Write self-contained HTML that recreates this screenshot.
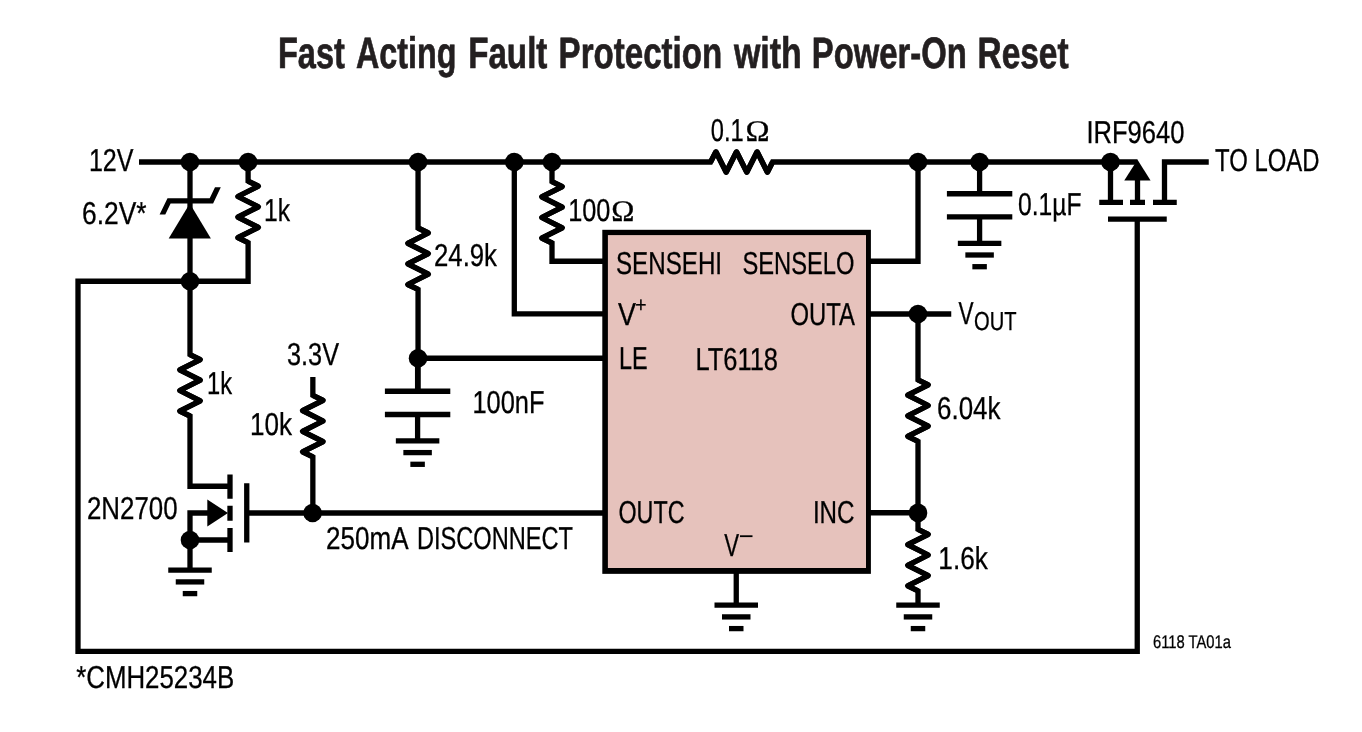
<!DOCTYPE html>
<html lang="en">
<head>
<meta charset="utf-8">
<title>Fast Acting Fault Protection with Power-On Reset</title>
<style>
html,body{margin:0;padding:0;background:#fff;}
body{width:1362px;height:732px;overflow:hidden;}
svg{display:block;will-change:transform;}
svg text{font-family:"Liberation Sans",sans-serif;fill:#000;stroke:#000;stroke-width:0.3px;text-rendering:geometricPrecision;}
.w path{fill:none;stroke:#000;stroke-width:5.3;stroke-linejoin:miter;stroke-miterlimit:1.6;stroke-linecap:butt;}
.w circle{fill:#000;}
</style>
</head>
<body>
<svg width="1362" height="732" viewBox="0 0 1362 732">
<rect x="0" y="0" width="1362" height="732" fill="#fff"/>

<rect x="602.3" y="229.8" width="268.6" height="344.05" fill="#000"/>
<rect x="607.9" y="235.1" width="258.1" height="332.9" fill="#e6c2bc"/>
<g class="w">
<path d="M139.00,162.00 L710.60,162.00 L715.90,151.70 L726.20,172.30 L736.50,151.70 L746.80,172.30 L757.10,151.70 L767.40,172.30 L772.60,162.00 L1137.50,162.00" />
<path d="M190.00,162.00 L190.00,354.60 L200.30,359.60 L179.70,369.90 L200.30,380.20 L179.70,390.50 L200.30,400.80 L179.70,411.10 L190.00,416.00 L190.00,486.25 L232.00,486.25" />
<path d="M248.10,162.00 L248.10,181.20 L258.40,186.20 L237.80,196.50 L258.40,206.80 L237.80,217.10 L258.40,227.40 L237.80,237.70 L248.10,242.60 L248.10,281.25 L78.00,281.25 L78.00,651.35 L1137.25,651.35 L1137.25,218.75" />
<path d="M418.05,162.00 L418.05,228.00 L428.35,233.00 L407.75,243.30 L428.35,253.60 L407.75,263.90 L428.35,274.20 L407.75,284.50 L418.05,289.40 L418.05,391.25" />
<path d="M418.00,358.25 L604.00,358.25" />
<path d="M514.30,162.00 L514.30,313.90 L604.00,313.90" />
<path d="M552.00,162.00 L552.00,181.60 L562.30,186.60 L541.70,196.90 L562.30,207.20 L541.70,217.50 L562.30,227.80 L541.70,238.10 L552.00,243.00 L552.00,261.25 L604.00,261.25" />
<path d="M870.00,261.25 L918.00,261.25 L918.00,162.00" />
<path d="M870.00,314.00 L951.25,314.00" />
<path d="M918.00,314.00 L918.00,379.90 L928.30,384.90 L907.70,395.20 L928.30,405.50 L907.70,415.80 L928.30,426.10 L907.70,436.40 L918.00,441.30 L918.00,529.40 L928.30,534.40 L907.70,544.70 L928.30,555.00 L907.70,565.30 L928.30,575.60 L907.70,585.90 L918.00,590.80 L918.00,605.00" />
<path d="M870.00,512.75 L918.00,512.75" />
<path d="M736.25,572.00 L736.25,605.00" />
<path d="M246.75,513.00 L604.00,513.00" />
<path d="M312.85,377.00 L312.85,395.40 L323.15,400.40 L302.55,410.70 L323.15,421.00 L302.55,431.30 L323.15,441.60 L302.55,451.90 L312.85,456.80 L312.85,513.00" />
<path d="M417.60,358.25 L417.60,391.25" />
<path d="M384.90,391.25 H450.30 M384.90,414.5 H450.30" stroke-width="5"/>
<path d="M417.60,414.50 L417.60,440.90" />
<path d="M395.85,440.90 H439.35" stroke-width="5.1"/>
<path d="M403.35,452.60 H431.85" stroke-width="5.1"/>
<path d="M410.35,464.30 H424.85" stroke-width="5.1"/>
<path d="M979.60,162.00 L979.60,193.75" />
<path d="M946.90,193.75 H1012.30 M946.90,216.9 H1012.30" stroke-width="5"/>
<path d="M979.60,216.90 L979.60,243.30" />
<path d="M957.85,243.30 H1001.35" stroke-width="5.1"/>
<path d="M965.35,255.00 H993.85" stroke-width="5.1"/>
<path d="M972.35,266.70 H986.85" stroke-width="5.1"/>
<path d="M230,474.5 V498.75 M230,505.75 V520.75 M230,528 V552 M246.75,483.25 V542.5" stroke-width="5"/>
<path d="M232.00,540.00 L190.00,540.00" />
<path d="M210.00,513.00 L190.00,513.00 L190.00,570.00" />
<path d="M228,513 L207.3,499.6 V526.6 Z" style="fill:#000;stroke:none"/>
<path d="M1099.25,202.3 H1123 M1130,202.3 H1145 M1153,202.3 H1176.75 M1108,219.1 H1166.75" stroke-width="5"/>
<path d="M1110.50,162.00 L1110.50,204.00" />
<path d="M1137.50,204.00 L1137.50,178.00" />
<path d="M1137.5,159.8 L1124.25,180.6 H1150.6 Z" style="fill:#000;stroke:none"/>
<path d="M1164.50,204.00 L1164.50,162.00 L1208.75,162.00" />
<path d="M189.8,203.6 L168.7,238.5 H210.9 Z" style="fill:#000;stroke:none"/>
<path d="M159.6,214.5 L167.5,198.2 H209.7 L215,187.3 H220.8 L213.1,203.6 H170.6 L165.3,214.5 Z" style="fill:#000;stroke:none"/>
<path d="M710.60,162.00 L715.90,151.70 L726.20,172.30 L736.50,151.70 L746.80,172.30 L757.10,151.70 L767.40,172.30 L772.60,162.00" style="stroke-linejoin:round"/>
<path d="M190.00,354.60 L200.30,359.60 L179.70,369.90 L200.30,380.20 L179.70,390.50 L200.30,400.80 L179.70,411.10 L190.00,416.00" style="stroke-linejoin:round"/>
<path d="M248.10,181.20 L258.40,186.20 L237.80,196.50 L258.40,206.80 L237.80,217.10 L258.40,227.40 L237.80,237.70 L248.10,242.60" style="stroke-linejoin:round"/>
<path d="M418.05,228.00 L428.35,233.00 L407.75,243.30 L428.35,253.60 L407.75,263.90 L428.35,274.20 L407.75,284.50 L418.05,289.40" style="stroke-linejoin:round"/>
<path d="M552.00,181.60 L562.30,186.60 L541.70,196.90 L562.30,207.20 L541.70,217.50 L562.30,227.80 L541.70,238.10 L552.00,243.00" style="stroke-linejoin:round"/>
<path d="M918.00,379.90 L928.30,384.90 L907.70,395.20 L928.30,405.50 L907.70,415.80 L928.30,426.10 L907.70,436.40 L918.00,441.30" style="stroke-linejoin:round"/>
<path d="M918.00,529.40 L928.30,534.40 L907.70,544.70 L928.30,555.00 L907.70,565.30 L928.30,575.60 L907.70,585.90 L918.00,590.80" style="stroke-linejoin:round"/>
<path d="M312.85,395.40 L323.15,400.40 L302.55,410.70 L323.15,421.00 L302.55,431.30 L323.15,441.60 L302.55,451.90 L312.85,456.80" style="stroke-linejoin:round"/>
<path d="M714.50,605.20 H758.00" stroke-width="5.1"/>
<path d="M722.00,616.90 H750.50" stroke-width="5.1"/>
<path d="M729.00,628.60 H743.50" stroke-width="5.1"/>
<path d="M896.25,605.20 H939.75" stroke-width="5.1"/>
<path d="M903.75,616.90 H932.25" stroke-width="5.1"/>
<path d="M910.75,628.60 H925.25" stroke-width="5.1"/>
<path d="M168.25,570.20 H211.75" stroke-width="5.1"/>
<path d="M175.75,581.90 H204.25" stroke-width="5.1"/>
<path d="M182.75,593.60 H197.25" stroke-width="5.1"/>
<circle cx="190" cy="162.0" r="9.3"/>
<circle cx="248.1" cy="162.0" r="9.3"/>
<circle cx="418.05" cy="162.0" r="9.3"/>
<circle cx="514.3" cy="162.0" r="9.3"/>
<circle cx="552" cy="162.0" r="9.3"/>
<circle cx="918" cy="162.0" r="9.3"/>
<circle cx="979.6" cy="162.0" r="9.3"/>
<circle cx="1110.5" cy="162.0" r="9.3"/>
<circle cx="190" cy="281.25" r="9.3"/>
<circle cx="418.05" cy="358.25" r="9.3"/>
<circle cx="918" cy="314" r="9.3"/>
<circle cx="918" cy="512.9" r="9.3"/>
<circle cx="312.6" cy="513" r="9.3"/>
<circle cx="190" cy="540" r="9.3"/>
</g>
<g>
<text id="L_t1" x="277.94" y="67.75" font-size="44" font-weight="bold" style="fill:#231f20;stroke:#231f20;stroke-width:0.7px;stroke-linejoin:miter" textLength="66.86" lengthAdjust="spacingAndGlyphs">Fast</text>
<text id="L_t2" x="355.98" y="67.75" font-size="44" font-weight="bold" style="fill:#231f20;stroke:#231f20;stroke-width:0.7px;stroke-linejoin:miter" textLength="100.46" lengthAdjust="spacingAndGlyphs">Acting</text>
<text id="L_t3" x="468.17" y="67.75" font-size="44" font-weight="bold" style="fill:#231f20;stroke:#231f20;stroke-width:0.7px;stroke-linejoin:miter" textLength="79.25" lengthAdjust="spacingAndGlyphs">Fault</text>
<text id="L_t4" x="558.57" y="67.75" font-size="44" font-weight="bold" style="fill:#231f20;stroke:#231f20;stroke-width:0.7px;stroke-linejoin:miter" textLength="163.68" lengthAdjust="spacingAndGlyphs">Protection</text>
<text id="L_t5" x="733.99" y="67.75" font-size="44" font-weight="bold" style="fill:#231f20;stroke:#231f20;stroke-width:0.7px;stroke-linejoin:miter" textLength="67.84" lengthAdjust="spacingAndGlyphs">with</text>
<text id="L_t6" x="811.77" y="67.75" font-size="44" font-weight="bold" style="fill:#231f20;stroke:#231f20;stroke-width:0.7px;stroke-linejoin:miter" textLength="155.06" lengthAdjust="spacingAndGlyphs">Power-On</text>
<text id="L_t7" x="977.57" y="67.75" font-size="44" font-weight="bold" style="fill:#231f20;stroke:#231f20;stroke-width:0.7px;stroke-linejoin:miter" textLength="91.03" lengthAdjust="spacingAndGlyphs">Reset</text>
<text id="L_12v" x="88.94" y="170.75" font-size="31.6" textLength="44.57" lengthAdjust="spacingAndGlyphs">12V</text>
<text id="L_62v" x="81.99" y="223.75" font-size="31.6" textLength="64.53" lengthAdjust="spacingAndGlyphs">6.2V*</text>
<text id="L_1ka" x="263.98" y="220.75" font-size="31.6" textLength="26.03" lengthAdjust="spacingAndGlyphs">1k</text>
<text id="L_249k" x="433.98" y="266.25" font-size="31.6" textLength="63.03" lengthAdjust="spacingAndGlyphs">24.9k</text>
<text id="L_100o" x="568.23" y="221.0" font-size="31.6" textLength="42.22" lengthAdjust="spacingAndGlyphs">100</text>
<text id="L_om1" x="611.28" y="221.0" font-size="30" style="font-family:'Liberation Serif',serif" textLength="23.21" lengthAdjust="spacingAndGlyphs">Ω</text>
<text id="L_01o" x="710.76" y="140.8" font-size="31.6" textLength="32.88" lengthAdjust="spacingAndGlyphs">0.1</text>
<text id="L_om2" x="745.62" y="140.8" font-size="30" style="font-family:'Liberation Serif',serif" textLength="24.12" lengthAdjust="spacingAndGlyphs">Ω</text>
<text id="L_irf" x="1086.42" y="143" font-size="31.6" textLength="98.11" lengthAdjust="spacingAndGlyphs">IRF9640</text>
<text id="L_load" x="1214.99" y="170.75" font-size="31.6" textLength="104.53" lengthAdjust="spacingAndGlyphs">TO LOAD</text>
<text id="L_01uf" x="1017.97" y="215" font-size="31.6" textLength="63.56" lengthAdjust="spacingAndGlyphs">0.1µF</text>
<text id="L_shi" x="615.97" y="273.75" font-size="31.6" textLength="106.09" lengthAdjust="spacingAndGlyphs">SENSEHI</text>
<text id="L_slo" x="742.47" y="273.75" font-size="31.6" textLength="112.05" lengthAdjust="spacingAndGlyphs">SENSELO</text>
<text id="L_vp" x="618.00" y="325" font-size="31.6" textLength="18.00" lengthAdjust="spacingAndGlyphs">V</text>
<text id="L_outa" x="790.49" y="325" font-size="31.6" textLength="64.51" lengthAdjust="spacingAndGlyphs">OUTA</text>
<text id="L_le" x="618.93" y="369.25" font-size="31.6" textLength="28.64" lengthAdjust="spacingAndGlyphs">LE</text>
<text id="L_lt" x="695.46" y="370" font-size="31.6" textLength="82.56" lengthAdjust="spacingAndGlyphs">LT6118</text>
<text id="L_outc" x="618.48" y="523" font-size="31.6" textLength="66.03" lengthAdjust="spacingAndGlyphs">OUTC</text>
<text id="L_inc" x="812.88" y="523" font-size="31.6" textLength="41.65" lengthAdjust="spacingAndGlyphs">INC</text>
<text id="L_vm" x="724.36" y="555.5" font-size="31.6" textLength="14.85" lengthAdjust="spacingAndGlyphs">V</text>
<text id="L_vo" x="958.47" y="324.25" font-size="31.6" textLength="15.07" lengthAdjust="spacingAndGlyphs">V</text>
<text id="L_out" x="973.98" y="330" font-size="26" textLength="42.52" lengthAdjust="spacingAndGlyphs">OUT</text>
<text id="L_604k" x="936.99" y="418.75" font-size="31.6" textLength="63.52" lengthAdjust="spacingAndGlyphs">6.04k</text>
<text id="L_16k" x="938.36" y="568.7" font-size="31.6" textLength="49.44" lengthAdjust="spacingAndGlyphs">1.6k</text>
<text id="L_100nf" x="472.43" y="412.5" font-size="31.6" textLength="72.10" lengthAdjust="spacingAndGlyphs">100nF</text>
<text id="L_33v" x="286.99" y="365" font-size="31.6" textLength="52.01" lengthAdjust="spacingAndGlyphs">3.3V</text>
<text id="L_10k" x="249.95" y="435" font-size="31.6" textLength="42.04" lengthAdjust="spacingAndGlyphs">10k</text>
<text id="L_1kb" x="206.98" y="393.75" font-size="31.6" textLength="25.03" lengthAdjust="spacingAndGlyphs">1k</text>
<text id="L_2n" x="86.98" y="518.75" font-size="31.6" textLength="90.53" lengthAdjust="spacingAndGlyphs">2N2700</text>
<text id="L_250" x="326.00" y="548.75" font-size="31.6" textLength="82.51" lengthAdjust="spacingAndGlyphs">250mA</text>
<text id="L_disc" x="416.99" y="548.75" font-size="31.6" textLength="156.01" lengthAdjust="spacingAndGlyphs">DISCONNECT</text>
<text id="L_cmh" x="76.19" y="687.7" font-size="31.6" textLength="158.02" lengthAdjust="spacingAndGlyphs">*CMH25234B</text>
<text id="L_ta" x="1152.99" y="648" font-size="18.3" textLength="78.01" lengthAdjust="spacingAndGlyphs">6118 TA01a</text>
<text id="L_plus" x="635.33" y="311.5" font-size="21.5" textLength="11.22" lengthAdjust="spacingAndGlyphs">+</text>
<rect x="740" y="535.3" width="12.5" height="1.8" fill="#000"/>
</g>
</svg>
</body>
</html>
